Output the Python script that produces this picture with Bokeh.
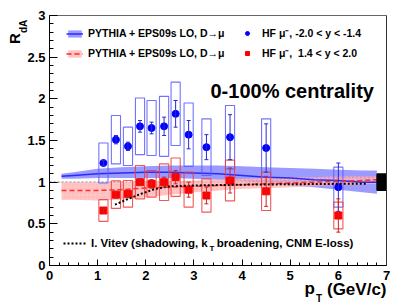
import numpy as np
from math import pi
from bokeh.plotting import figure
from bokeh.models import (Range1d, Label, Legend, LegendItem, Whisker, LinearAxis,
                          ColumnDataSource, TeeHead, FixedTicker)
from bokeh.embed import file_html
from bokeh.resources import INLINE

# ---------------- data ----------------
pt = [1.12, 1.38, 1.63, 1.88, 2.12, 2.38, 2.62, 2.89, 3.26, 3.75, 4.50, 6.00]

bwd_val = [1.23, 1.51, 1.43, 1.67, 1.65, 1.67, 1.82, 1.57, 1.42, 1.54, 1.41, 0.94]
bwd_stat = [0.03, 0.05, 0.05, 0.07, 0.07, 0.11, 0.16, 0.17, 0.15, 0.27, 0.29, 0.29]
bwd_sys = [0.24, 0.29, 0.23, 0.34, 0.33, 0.36, 0.38, 0.38, 0.34, 0.38, 0.35, 0.24]

fwd_val = [0.66, 0.85, 0.86, 1.00, 0.98, 1.00, 1.06, 0.91, 0.84, 1.02, 0.89, 0.60]
fwd_stat = [0.03, 0.04, 0.04, 0.04, 0.05, 0.06, 0.08, 0.09, 0.10, 0.15, 0.18, 0.20]
fwd_sys = [0.13, 0.165, 0.16, 0.20, 0.16, 0.22, 0.23, 0.21, 0.20, 0.245, 0.23, 0.16]

pythia_pt = [0.25, 0.5, 1.0, 1.5, 2.0, 2.5, 3.0, 3.5, 4.0, 4.5, 5.0, 5.5, 6.0, 6.5, 6.8]
bwd_pythia = [1.07, 1.08, 1.10, 1.11, 1.12, 1.12, 1.11, 1.10, 1.08, 1.06, 1.05, 1.03, 1.02, 1.00, 1.00]
bwd_pythia_hi = [1.10, 1.12, 1.16, 1.18, 1.19, 1.20, 1.20, 1.20, 1.19, 1.18, 1.17, 1.16, 1.15, 1.14, 1.14]
bwd_pythia_lo = [1.04, 1.04, 1.05, 1.05, 1.05, 1.05, 1.04, 1.03, 1.01, 0.99, 0.96, 0.94, 0.91, 0.88, 0.86]

fwd_pythia = [0.90, 0.90, 0.90, 0.91, 0.93, 0.94, 0.95, 0.96, 0.97, 0.98, 0.99, 1.00, 1.01, 1.02, 1.03]
fwd_pythia_hi = [1.00, 1.00, 1.00, 1.00, 1.01, 1.01, 1.02, 1.03, 1.04, 1.05, 1.06, 1.06, 1.07, 1.07, 1.07]
fwd_pythia_lo = [0.79, 0.79, 0.78, 0.79, 0.82, 0.85, 0.88, 0.90, 0.92, 0.93, 0.94, 0.95, 0.96, 0.97, 0.98]

vitev_pt = [1.36, 1.6, 1.9, 2.2, 2.5, 3.0, 3.5, 4.0, 5.0, 6.0, 6.57]
vitev_val = [0.73, 0.79, 0.86, 0.92, 0.95, 0.96, 0.965, 0.97, 0.975, 0.98, 0.98]

norm_pt = [6.9]
norm_val = [1.0]
norm_unc = [0.10]

unity = 1.0
x_ticks = [0, 1, 2, 3, 4, 5, 6, 7]
y_ticks = [0, 0.5, 1, 1.5, 2, 2.5, 3]
y_tick_labels = ["0", "0.5", "1", "1.5", "2", "2.5", "3"]
x_min, x_max = 0, 7
y_min, y_max = 0, 3

FONT = "Liberation Sans"

# ---------------- geometry (pixels) ----------------
W, H = 400, 303
FL, FR, FT, FB = 49, 386, 15, 265          # axis box edges on the canvas
UX = (FR - FL) / (x_max - x_min)
UY = (FB - FT) / (y_max - y_min)

p = figure(width=W, height=H,
           x_range=Range1d(x_min - FL / UX, x_max + (W - FR) / UX),
           y_range=Range1d(y_min - (H - FB) / UY, y_max + FT / UY),
           output_backend="svg", toolbar_location=None, min_border=0)
p.xgrid.visible = False
p.ygrid.visible = False
p.outline_line_color = None
p.background_fill_color = "white"
p.border_fill_color = "white"

xa, ya = p.xaxis[0], p.yaxis[0]
xa.fixed_location = y_min
xa.bounds = (x_min, x_max)
ya.fixed_location = x_min
ya.bounds = (y_min, y_max)
for ax in (xa, ya):
    ax.axis_line_color = "black"
    ax.major_tick_line_color = "black"
    ax.minor_tick_line_color = "black"
    ax.major_tick_out = 0
    ax.minor_tick_out = 0
    ax.major_label_text_font = FONT
    ax.major_label_text_font_style = "bold"
    ax.major_label_text_font_size = "13px"
    ax.major_label_text_color = "black"

xa.ticker = FixedTicker(ticks=x_ticks, minor_ticks=[i / 5 for i in range(0, 36)])
xa.major_tick_in = 6
xa.minor_tick_in = 3
xa.major_label_standoff = 5

ya.ticker = FixedTicker(ticks=y_ticks, minor_ticks=[i / 10 for i in range(0, 31)])
ya.major_label_overrides = {t: l for t, l in zip(y_ticks, y_tick_labels)}
ya.major_tick_in = 8
ya.minor_tick_in = 4
ya.major_label_standoff = 4

# top and right frame lines
top_ax = LinearAxis(fixed_location=y_max, bounds=(x_min, x_max),
                    ticker=FixedTicker(ticks=[]), axis_line_color="#666666",
                    major_label_text_font_size="0px")
right_ax = LinearAxis(fixed_location=x_max, bounds=(y_min, y_max),
                      ticker=FixedTicker(ticks=[]), axis_line_color="#333333",
                      major_label_text_font_size="0px")
p.add_layout(top_ax, "above")
p.add_layout(right_ax, "right")

# unity line
p.segment(x0=[x_min], x1=[x_max], y0=[unity], y1=[unity],
          line_color="#555555", line_dash="2 2", line_width=1)

# model bands
b_band = p.varea(x=pythia_pt, y1=bwd_pythia_lo, y2=bwd_pythia_hi,
                 fill_color="#6f6fff", fill_alpha=0.7)
f_band = p.varea(x=pythia_pt, y1=fwd_pythia_lo, y2=fwd_pythia_hi,
                 fill_color="#ff9a9a", fill_alpha=0.65,
                 hatch_pattern="+", hatch_color="#ffd0d0", hatch_scale=4,
                 hatch_weight=0.8, hatch_alpha=0.7)
b_line = p.line(pythia_pt, bwd_pythia, line_color="#2a2aff", line_width=1.5)
f_line = p.line(pythia_pt, fwd_pythia, line_color="#ff2a2a", line_width=1.5,
                line_dash="5 3")

# systematic boxes
box_w = 0.19
p.rect(x=pt, y=bwd_val, width=box_w, height=[2 * s for s in bwd_sys],
       fill_alpha=0, line_color="#5a5aff", line_width=1.1, line_alpha=0.85)
p.rect(x=pt, y=fwd_val, width=box_w, height=[2 * s for s in fwd_sys],
       fill_alpha=0, line_color="#ee3b3b", line_width=1.1, line_alpha=0.85)

# normalisation uncertainty
p.rect(x=norm_pt, y=norm_val, width=0.2, height=[2 * u for u in norm_unc],
       fill_color="black", line_color="black")

# statistical error bars
bv, bs = np.array(bwd_val), np.array(bwd_stat)
fv, fs = np.array(fwd_val), np.array(fwd_stat)
src_b = ColumnDataSource(dict(base=pt, upper=bv + bs, lower=bv - bs))
src_f = ColumnDataSource(dict(base=pt, upper=fv + fs, lower=fv - fs))
for src, col in ((src_b, "#2a2acc"), (src_f, "#cc2222")):
    w = Whisker(source=src, base="base", upper="upper", lower="lower",
                line_color=col, line_width=1, level="glyph",
                upper_head=TeeHead(size=4, line_color=col, line_width=1),
                lower_head=TeeHead(size=4, line_color=col, line_width=1))
    p.add_layout(w)

# points
b_pts = p.scatter(pt, bwd_val, marker="circle", size=7, fill_color="#0000ff",
                  line_color="#0000ff")
f_pts = p.scatter(pt, fwd_val, marker="square", size=7, fill_color="#ff0000",
                  line_color="#ff0000")

# Vitev curve
v_line = p.line(vitev_pt, vitev_val, line_color="black", line_width=2,
                line_dash="2 2")

# ---------------- legends ----------------
def style_legend(lg, gw, gh, standoff, size="10.5px"):
    lg.border_line_color = None
    lg.background_fill_alpha = 0
    lg.padding = 0
    lg.margin = 0
    lg.spacing = 0
    lg.glyph_width = gw
    lg.glyph_height = gh
    lg.label_height = 20
    lg.label_standoff = standoff
    lg.label_text_font = FONT
    lg.label_text_font_style = "bold"
    lg.label_text_font_size = size
    lg.label_text_color = "black"

lg1 = Legend(items=[
    LegendItem(label="PYTHIA + EPS09s LO, D\u2192\u03bc", renderers=[b_band, b_line]),
    LegendItem(label="PYTHIA + EPS09s LO, D\u2192\u03bc", renderers=[f_band, f_line]),
], location=(66, H - 63))
style_legend(lg1, 17, 9, 5)
p.add_layout(lg1)

lg2 = Legend(items=[
    LegendItem(label="HF \u03bc\u207b, -2.0 < y < -1.4", renderers=[b_pts]),
    LegendItem(label="HF \u03bc\u207b,  1.4 < y < 2.0", renderers=[f_pts]),
], location=(242, H - 63))
style_legend(lg2, 10, 10, 10)
p.add_layout(lg2)

lg3 = Legend(items=[
    LegendItem(label="I. Vitev (shadowing, k\u2002 broadening, CNM E-loss)",
               renderers=[v_line]),
], location=(63, H - 253))
style_legend(lg3, 24, 10, 4, "11.5px")
p.add_layout(lg3)

# ---------------- texts ----------------
def X(px):
    return x_min + (px - FL) / UX

def Y(py):
    return y_min + (FB - py) / UY

def add_text(text, px, py, size, align="left", angle=0.0):
    p.add_layout(Label(x=X(px), y=Y(py), text=text, text_font=FONT,
                       text_font_style="bold", text_font_size=size,
                       text_color="black", text_align=align,
                       text_baseline="middle", angle=angle))

add_text("0-100% centrality", 210, 90, "20px")
add_text("R", 14, 43.5, "15px", angle=pi / 2)
add_text("dA", 22.5, 32.5, "10px", angle=pi / 2)
add_text("p", 304, 288, "17px")
add_text("T", 315.5, 297.5, "10px")
add_text("(GeV/c)", 386, 289, "17px", align="right")
add_text("T", 209, 248, "8px")

open("out.html", "w").write(file_html(p, INLINE))
